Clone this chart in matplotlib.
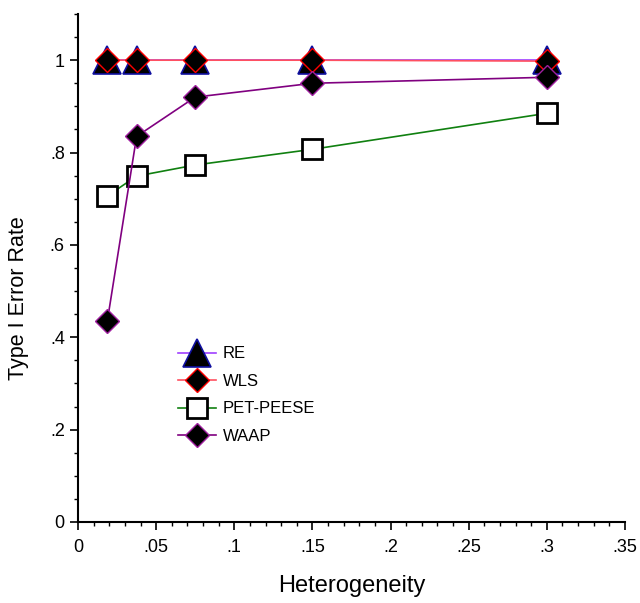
import numpy as np
import matplotlib.pyplot as plt
from matplotlib.ticker import MultipleLocator, FuncFormatter

plt.rcParams['font.family'] = ['Liberation Sans', 'DejaVu Sans']

# -- data --
heterogeneity = [0.01875, 0.0375, 0.075, 0.15, 0.30]
re_rate = [1.0, 1.0, 1.0, 1.0, 1.0]
wls_rate = [1.0, 1.0, 1.0, 1.0, 0.998]
petpeese_rate = [0.706, 0.749, 0.773, 0.807, 0.885]
waap_rate = [0.435, 0.835, 0.920, 0.950, 0.963]

fig = plt.figure(figsize=(6.4, 6.03), dpi=100)
ax = fig.add_axes([78 / 640, 1 - 522 / 603, 547 / 640, 508 / 603])

ax.plot(heterogeneity, re_rate, color='#a040ff', lw=1.2, marker='^', ms=20,
        mfc='black', mec='#1010a0', mew=1.2, label='RE')
ax.plot(heterogeneity, wls_rate, color='#ff5060', lw=1.2, marker='D', ms=12,
        mfc='black', mec='red', mew=1.0, label='WLS')
ax.plot(heterogeneity, petpeese_rate, color='#108010', lw=1.2, marker='s', ms=14,
        mfc='white', mec='black', mew=2.0, label='PET-PEESE')
ax.plot(heterogeneity, waap_rate, color='#800080', lw=1.2, marker='D', ms=12,
        mfc='black', mec='#a020a0', mew=1.0, label='WAAP')

ax.set_xlim(0, 0.35)
ax.set_ylim(0, 1.1)
ax.xaxis.set_major_locator(MultipleLocator(0.05))
ax.xaxis.set_minor_locator(MultipleLocator(0.01))
ax.yaxis.set_major_locator(MultipleLocator(0.2))
ax.yaxis.set_minor_locator(MultipleLocator(0.05))


def strip_zero(v, pos):
    s = f'{v:.2f}'.rstrip('0').rstrip('.')
    if s.startswith('0.'):
        s = s[1:]
    return s if s else '0'


ax.xaxis.set_major_formatter(FuncFormatter(strip_zero))
ax.yaxis.set_major_formatter(FuncFormatter(strip_zero))

for side in ['top', 'right']:
    ax.spines[side].set_visible(False)
for side in ['left', 'bottom']:
    ax.spines[side].set_linewidth(1.5)
ax.tick_params(which='major', direction='out', length=6, width=1.2, labelsize=13)
ax.tick_params(which='minor', direction='out', length=3, width=1.0)
ax.tick_params(axis='x', pad=6)

ax.set_xlabel('Heterogeneity', fontsize=17, labelpad=14)
ax.set_ylabel('Type I Error Rate', fontsize=15.5)
ax.yaxis.set_label_coords(-0.09, 0.44)

ax.legend(loc='upper left', bbox_to_anchor=(0.155, 0.375), frameon=False,
          fontsize=12, handlelength=2.3, labelspacing=0.75, handletextpad=0.4,
          markerscale=1.0)

fig.savefig('out.png', dpi=100)
